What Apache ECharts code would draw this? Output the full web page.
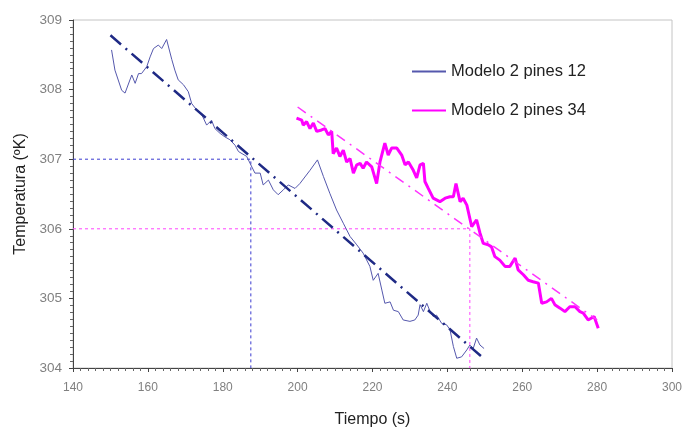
<!DOCTYPE html>
<html><head><meta charset="utf-8">
<script src="https://cdn.jsdelivr.net/npm/echarts@6/dist/echarts.min.js"></script>
<style>html,body{margin:0;padding:0;background:#fff}#c{width:684px;height:427px}</style>
</head><body><div id="c"></div>
<script>
const blueTime = [150.3,151.2,153.0,153.9,155.7,156.6,157.5,158.3,159.7,160.6,161.5,162.8,163.7,165.0,166.4,167.2,168.1,169.5,170.8,171.7,173.0,174.4,175.7,177.0,177.9,179.3,180.6,181.9,183.3,184.2,186.4,187.3,188.6,190.0,190.8,192.2,193.5,194.8,196.2,197.5,199.3,200.6,203.3,205.3,206.9,208.6,210.4,212.2,214.0,215.8,217.5,219.3,220.2,221.5,222.5,223.3,224.7,225.6,226.9,228.2,230.0,231.3,232.2,232.7,233.6,234.5,235.4,236.2,237.1,238.5,239.8,240.7,241.6,242.5,243.8,245.2,246.0,246.9,247.8,248.7,249.8];
const blueTemp = [308.57,308.28,307.99,307.95,308.21,308.09,308.23,308.23,308.33,308.47,308.59,308.64,308.59,308.72,308.43,308.28,308.14,308.07,307.97,307.80,307.71,307.64,307.49,307.56,307.44,307.37,307.32,307.28,307.20,307.11,307.04,306.94,306.80,306.80,306.63,306.70,306.56,306.49,306.56,306.63,306.58,306.65,306.84,306.99,306.75,306.51,306.27,306.08,305.89,305.77,305.65,305.46,305.26,305.36,305.12,304.93,304.95,304.83,304.81,304.69,304.67,304.69,304.76,304.91,304.81,304.93,304.81,304.74,304.76,304.64,304.62,304.55,304.31,304.14,304.16,304.26,304.33,304.28,304.43,304.33,304.28];
const pinkTime = [199.7,201.1,201.5,202.4,203.3,204.2,205.1,206.4,207.3,208.2,209.1,209.5,210.4,211.3,212.2,213.1,214.0,214.9,215.8,216.7,217.5,218.4,219.8,221.1,222.0,223.3,224.2,225.1,226.5,227.8,228.7,229.6,230.9,231.8,232.7,233.6,234.0,234.9,236.2,238.0,239.4,240.7,241.6,242.3,243.4,244.2,245.2,246.5,247.8,248.7,249.6,250.9,251.8,252.7,254.0,255.4,256.7,258.1,258.9,260.3,261.6,262.9,264.3,265.2,266.5,267.8,268.7,270.1,271.4,272.7,274.1,275.4,276.3,277.6,279.2,280.3];
const pinkTemp = [307.59,307.56,307.49,307.54,307.44,307.52,307.40,307.42,307.44,307.35,307.40,307.08,307.16,307.04,307.13,306.96,307.01,306.80,306.92,306.94,306.87,306.96,306.89,306.65,306.96,307.23,307.06,307.16,307.16,307.06,306.92,306.96,306.84,306.73,306.92,306.94,306.68,306.58,306.44,306.39,306.44,306.46,306.46,306.65,306.39,306.44,306.34,306.03,306.13,305.94,305.79,305.77,305.74,305.60,305.55,305.46,305.46,305.58,305.41,305.34,305.26,305.24,305.22,304.93,304.95,305.00,304.91,304.86,304.81,304.88,304.88,304.81,304.79,304.69,304.74,304.57];
const trendBlue = [[150,308.78],[249,304.17]];
const trendPink = [[200,307.75],[280,304.69]];
const refBlue = [[140,307],[187.5,307],[187.5,304]];
const refPink = [[140,306],[246,306],[246,304]];
const seriesNames = ['Modelo 2 pines 12','Modelo 2 pines 34'];
const xTitle = 'Tiempo (s)';
const yTitle = 'Temperatura (ºK)';

const zip = (a,b) => a.map((v,i)=>[v,b[i]]);
const chart = echarts.init(document.getElementById('c'), null, {renderer:'canvas'});
const FONT = 'Liberation Sans, Arial, sans-serif';
chart.setOption({
  animation:false,
  backgroundColor:'#fff',
  grid:{left:73,right:12,top:20,bottom:59,containLabel:false,outerBoundsMode:'none',
        show:true,borderColor:'#c4c4c4',borderWidth:1},
  legend:{
    data:seriesNames, orient:'vertical', left:406, top:58, itemWidth:34, itemHeight:14, itemGap:22,
    itemStyle:{opacity:0,borderWidth:0},
    textStyle:{fontFamily:FONT,fontSize:16.5,color:'#222'}
  },
  xAxis:{
    type:'value', min:140, max:300, interval:20, name:xTitle, nameLocation:'middle', nameGap:44,
    nameTextStyle:{fontFamily:FONT,fontSize:16,color:'#222'},
    axisLine:{lineStyle:{color:'#444',width:1}},
    axisTick:{show:true,length:4,lineStyle:{color:'#444'}},
    minorTick:{show:true,splitNumber:10,length:3,lineStyle:{color:'#666'}},
    axisLabel:{fontFamily:FONT,fontSize:12,color:'#808080',margin:14},
    splitLine:{show:false}
  },
  yAxis:{
    type:'value', min:304, max:309, interval:1, name:yTitle, nameLocation:'middle', nameGap:44,
    nameTextStyle:{fontFamily:FONT,fontSize:16,color:'#222'},
    axisLine:{lineStyle:{color:'#444',width:1}},
    axisTick:{show:true,length:4,lineStyle:{color:'#444'}},
    minorTick:{show:true,splitNumber:10,length:3,lineStyle:{color:'#666'}},
    axisLabel:{fontFamily:FONT,fontSize:13.5,color:'#808080',margin:11},
    splitLine:{show:false}
  },
  series:[
    {name:'refBlue',type:'line',data:refBlue,showSymbol:false,symbol:'none',silent:true,
     lineStyle:{color:'#3a3ad0',width:1,type:[3,3]}},
    {name:'refPink',type:'line',data:refPink,showSymbol:false,symbol:'none',silent:true,
     lineStyle:{color:'#ff44ff',width:1,type:[3,3]}},
    {name:seriesNames[0],type:'line',data:zip(blueTime,blueTemp),showSymbol:false,symbol:'none',
     lineStyle:{color:'#5558ad',width:1},itemStyle:{color:'#5558ad'}},
    {name:seriesNames[1],type:'line',data:zip(pinkTime,pinkTemp),showSymbol:false,symbol:'none',
     lineStyle:{color:'#ff00ff',width:3},itemStyle:{color:'#ff00ff'}},
    {name:'trendBlue',type:'line',data:trendBlue,showSymbol:false,symbol:'none',silent:true,
     lineStyle:{color:'#1f2a85',width:2.5,type:[14,6,2,6]}},
    {name:'trendPink',type:'line',data:trendPink,showSymbol:false,symbol:'none',silent:true,
     lineStyle:{color:'#ff33ff',width:1.5,type:[10,6,2,6]}}
  ]
});
</script></body></html>
